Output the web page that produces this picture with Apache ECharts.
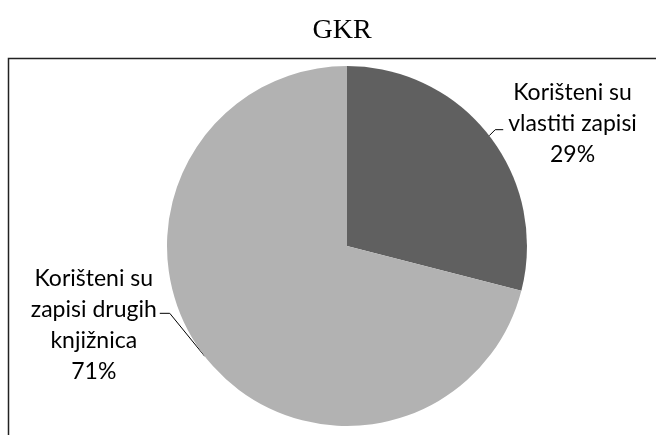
<!DOCTYPE html>
<html lang="hr">
<head>
    <meta charset="UTF-8">
    <title>GKR</title>
    <script src="https://cdn.jsdelivr.net/npm/echarts@6/dist/echarts.min.js"></script>
    <style>
        html, body { margin: 0; padding: 0; background: #fff; }
        #main { width: 656px; height: 435px; }
    </style>
</head>
<body>
<div id="main"></div>
<script type="text/javascript">
    // podaci s grafikona
    var naslov = 'GKR';
    var kategorije = ['Korišteni su\nvlastiti zapisi', 'Korišteni su\nzapisi drugih\nknjižnica'];
    var postotci = [29, 71];
    var boje = ['#606060', '#b2b2b2'];

    var podaci = [];
    for (var i = 0; i < kategorije.length; i++) {
        podaci.push({ name: kategorije[i], value: postotci[i], itemStyle: { color: boje[i] } });
    }

    var myChart = echarts.init(document.getElementById('main'));
    myChart.setOption({
        animation: false,
        title: {
            text: naslov,
            left: 337,
            top: 12,
            textAlign: 'center',
            textStyle: {
                fontFamily: 'Liberation Serif',
                fontWeight: 'normal',
                fontSize: 28,
                color: '#000'
            }
        },
        // okvir oko grafikona
        graphic: [{
            type: 'rect',
            shape: { x: 8.5, y: 58.5, width: 800, height: 600 },
            style: { fill: null, stroke: '#222', lineWidth: 1.5 },
            z: -1
        }],
        series: [{
            type: 'pie',
            center: [347, 246],
            radius: 180,
            startAngle: 90,
            clockwise: true,
            data: podaci,
            label: {
                show: true,
                position: 'outside',
                formatter: '{b}\n{d}%',
                fontFamily: 'Lato',
                fontSize: 23,
                lineHeight: 31,
                color: '#000',
                align: 'center'
            },
            labelLine: {
                show: true,
                length: 8,
                length2: 8,
                lineStyle: { color: '#000', width: 1 }
            },
            labelLayout: function (p) {
                var a = p.labelLinePoints ? p.labelLinePoints[0] : [0, 0];
                var w = p.labelRect.width;
                if (p.dataIndex === 0) {
                    return {
                        x: a[0] + 19 + w / 2,
                        y: a[1] - 12,
                        align: 'center',
                        verticalAlign: 'middle',
                        labelLinePoints: [a, [a[0] + 6, a[1] - 6], [a[0] + 14, a[1] - 6]]
                    };
                }
                return {
                    x: a[0] - 48 - w / 2,
                    y: a[1] - 31,
                    align: 'center',
                    verticalAlign: 'middle',
                    labelLinePoints: [a, [a[0] - 35, a[1] - 43], [a[0] - 45, a[1] - 43]]
                };
            }
        }]
    });
</script>
</body>
</html>
